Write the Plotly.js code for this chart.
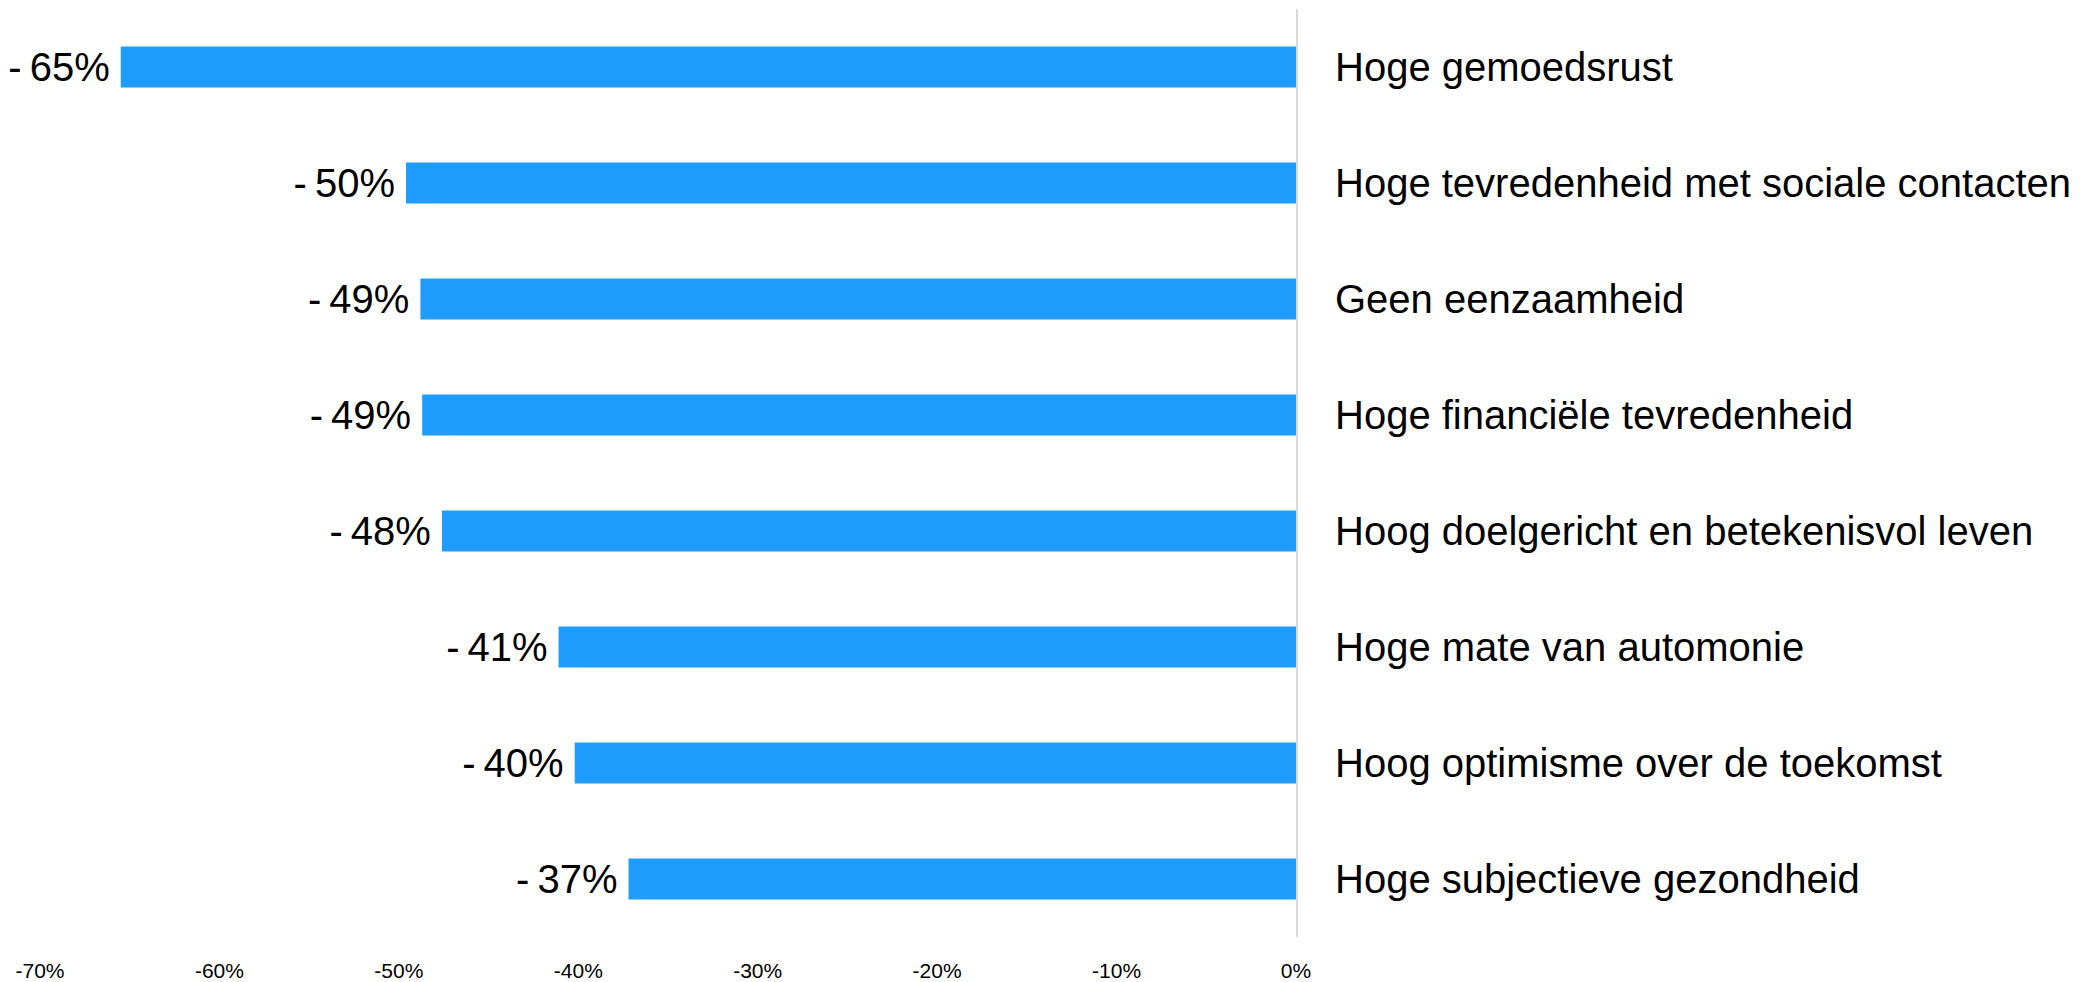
<!DOCTYPE html>
<html>
<head>
<meta charset="utf-8">
<script src="https://cdn.plot.ly/plotly-3.0.1.min.js"></script>
<style>html,body{margin:0;padding:0;background:#fff;}#chart{width:2090px;height:982px;}</style>
</head>
<body>
<div id="chart"></div>
<script>
var categories = [
  "Hoge gemoedsrust",
  "Hoge tevredenheid met sociale contacten",
  "Geen eenzaamheid",
  "Hoge financiële tevredenheid",
  "Hoog doelgericht en betekenisvol leven",
  "Hoge mate van automonie",
  "Hoog optimisme over de toekomst",
  "Hoge subjectieve gezondheid"
];
var values = [-65.5, -49.6, -48.8, -48.7, -47.6, -41.1, -40.2, -37.2];
var valueLabels = ["-65%", "-50%", "-49%", "-49%", "-48%", "-41%", "-40%", "-37%"];
var tickVals = [-70, -60, -50, -40, -30, -20, -10, 0];
var tickText = ["-70%", "-60%", "-50%", "-40%", "-30%", "-20%", "-10%", "0%"];

var trace = {
  type: "bar",
  orientation: "h",
  x: values,
  y: categories,
  text: valueLabels.map(function(t){ return t.replace("-", "-\u2009") + "\u2009"; }),
  textposition: "outside",
  constraintext: "none",
  cliponaxis: false,
  textfont: {size: 40, color: "#000000", family: "Liberation Sans, Arial, sans-serif"},
  marker: {color: "#1E9DFF", line: {width: 0}},
  hoverinfo: "none"
};

var layout = {
  width: 2090,
  height: 982,
  margin: {l: 40, r: 794, t: 9, b: 45, pad: 0},
  paper_bgcolor: "#ffffff",
  plot_bgcolor: "#ffffff",
  font: {family: "Liberation Sans, Arial, sans-serif", color: "#000000"},
  showlegend: false,
  bargap: 0.645,
  xaxis: {
    range: [-70, 0],
    tickmode: "array",
    tickvals: tickVals,
    ticktext: tickText,
    tickfont: {size: 21, color: "#000000"},
    showgrid: false,
    zeroline: false,
    showline: false,
    ticks: "",
    ticklabelstandoff: 19,
    fixedrange: true
  },
  yaxis: {
    side: "right",
    autorange: "reversed",
    tickfont: {size: 40, color: "#000000"},
    showgrid: false,
    zeroline: false,
    showline: true,
    linecolor: "#D9D9D9",
    linewidth: 2,
    ticks: "",
    ticklabelstandoff: 29,
    fixedrange: true
  }
};

Plotly.newPlot("chart", [trace], layout, {displayModeBar: false, staticPlot: true});
</script>
</body>
</html>
